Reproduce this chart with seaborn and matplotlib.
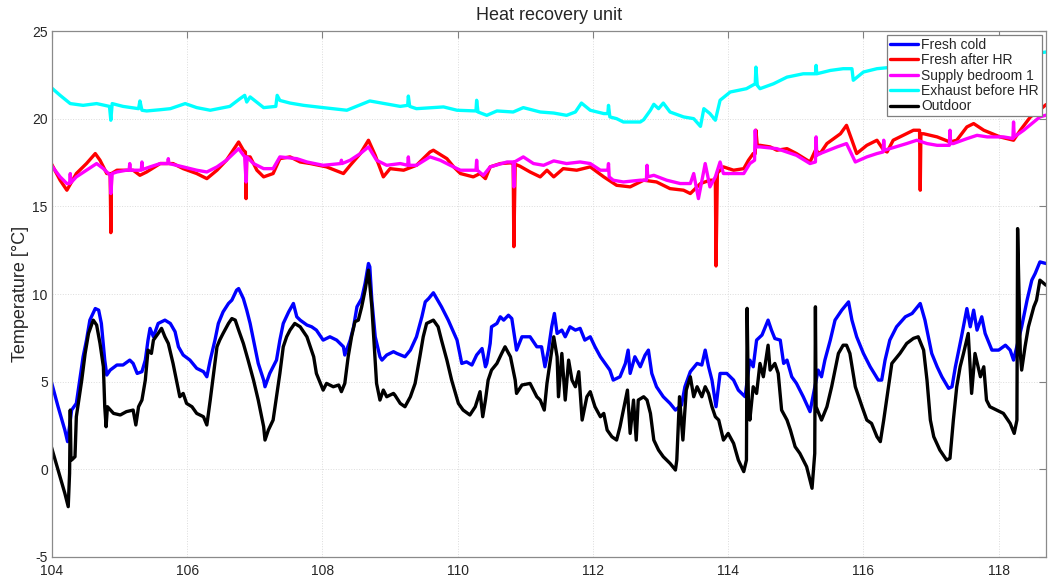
import matplotlib
matplotlib.use("Agg")
import matplotlib.pyplot as plt
import pandas as pd
import seaborn as sns

# ---- sensor readings (day of year, degC) ----
t_fresh_cold = [
    103.99, 104.09, 104.19, 104.23, 104.29, 104.36, 104.41, 104.46, 104.51, 104.56,
    104.64, 104.69, 104.73, 104.78, 104.81, 104.86, 104.96, 105.05, 105.15, 105.20,
    105.26, 105.33, 105.38, 105.42, 105.45, 105.50, 105.57, 105.67, 105.75, 105.82,
    105.87, 105.94, 106.04, 106.14, 106.24, 106.29, 106.34, 106.41, 106.46, 106.53,
    106.61, 106.66, 106.73, 106.76, 106.83, 106.88, 106.93, 106.98, 107.05, 107.13,
    107.15, 107.22, 107.32, 107.37, 107.42, 107.50, 107.57, 107.62, 107.67, 107.77,
    107.84, 107.91, 107.96, 108.01, 108.11, 108.21, 108.31, 108.33, 108.41, 108.46,
    108.51, 108.58, 108.63, 108.68, 108.70, 108.73, 108.78, 108.85, 108.88, 108.95,
    109.05, 109.10, 109.22, 109.30, 109.39, 109.47, 109.52, 109.57, 109.64, 109.69,
    109.76, 109.86, 109.99, 110.06, 110.13, 110.21, 110.28, 110.36, 110.41, 110.43,
    110.48, 110.50, 110.58, 110.63, 110.68, 110.75, 110.80, 110.87, 110.95, 111.07,
    111.17, 111.24, 111.29, 111.34, 111.39, 111.43, 111.47, 111.54, 111.59, 111.66,
    111.74, 111.81, 111.88, 111.96, 112.03, 112.11, 112.18, 112.25, 112.30, 112.40,
    112.48, 112.52, 112.55, 112.62, 112.70, 112.77, 112.82, 112.87, 112.94, 113.04,
    113.14, 113.22, 113.31, 113.36, 113.44, 113.54, 113.61, 113.66, 113.71, 113.76,
    113.82, 113.88, 113.98, 114.08, 114.15, 114.25, 114.32, 114.37, 114.42, 114.50,
    114.59, 114.64, 114.69, 114.77, 114.82, 114.87, 114.94, 115.01, 115.11, 115.21,
    115.33, 115.38, 115.43, 115.51, 115.58, 115.68, 115.78, 115.83, 115.90, 116.00,
    116.10, 116.22, 116.27, 116.32, 116.39, 116.49, 116.62, 116.72, 116.84, 116.91,
    117.01, 117.09, 117.16, 117.26, 117.31, 117.36, 117.45, 117.53, 117.58, 117.63,
    117.68, 117.75, 117.80, 117.90, 118.00, 118.10, 118.17, 118.22, 118.34, 118.42,
    118.49, 118.54, 118.61, 118.70,
]
fresh_cold = [
    5.00, 3.57, 2.24, 1.58, 3.38, 3.76, 5.09, 6.42, 7.37, 8.51,
    9.17, 9.08, 8.32, 6.23, 5.38, 5.66, 5.95, 5.95, 6.23, 6.04,
    5.47, 5.57, 6.23, 7.37, 8.04, 7.56, 8.32, 8.51, 8.32, 7.85,
    6.99, 6.52, 6.23, 5.76, 5.57, 5.28, 6.23, 7.37, 8.32, 8.98,
    9.46, 9.65, 10.22, 10.31, 9.74, 9.08, 8.32, 7.37, 6.04, 5.09,
    4.71, 5.47, 6.23, 7.37, 8.32, 8.98, 9.46, 8.70, 8.51, 8.23,
    8.13, 7.94, 7.65, 7.37, 7.56, 7.37, 6.99, 6.52, 7.37, 8.13,
    9.27, 9.74, 10.60, 11.74, 11.55, 9.65, 7.56, 6.42, 6.23, 6.52,
    6.71, 6.61, 6.42, 6.80, 7.56, 8.70, 9.55, 9.74, 10.07, 9.74,
    9.27, 8.51, 7.37, 6.04, 6.13, 5.95, 6.52, 6.89, 5.85, 6.04,
    7.18, 8.13, 8.32, 8.70, 8.51, 8.79, 8.60, 6.80, 7.56, 7.56,
    6.99, 6.99, 5.85, 6.80, 8.13, 8.89, 7.75, 7.94, 7.56, 8.13,
    7.94, 8.04, 7.37, 7.56, 6.99, 6.42, 6.04, 5.66, 5.09, 5.28,
    6.04, 6.80, 5.47, 6.42, 5.85, 6.51, 6.80, 5.47, 4.71, 4.14,
    3.76, 3.38, 3.67, 4.71, 5.57, 6.04, 5.95, 6.80, 5.85, 5.09,
    3.57, 5.47, 5.47, 5.09, 4.52, 4.14, 6.23, 5.85, 7.37, 7.66,
    8.51, 7.94, 7.46, 7.37, 6.04, 6.23, 5.28, 4.90, 4.14, 3.29,
    5.66, 5.28, 6.23, 7.37, 8.51, 9.08, 9.55, 8.51, 7.56, 6.61,
    5.85, 5.09, 5.09, 6.23, 7.37, 8.13, 8.70, 8.89, 9.46, 8.51,
    6.61, 5.85, 5.28, 4.62, 4.71, 5.85, 7.56, 9.17, 8.13, 9.08,
    7.94, 8.70, 7.75, 6.80, 6.80, 7.08, 6.80, 6.23, 8.13, 9.65,
    10.79, 11.17, 11.83, 11.74,
]

t_fresh_after_hr = [
    103.99, 104.12, 104.22, 104.36, 104.51, 104.64, 104.71, 104.81, 104.86, 104.87,
    104.88, 104.96, 105.20, 105.30, 105.40, 105.60, 105.79, 105.94, 106.14, 106.29,
    106.44, 106.58, 106.76, 106.83, 106.86, 106.87, 106.88, 106.93, 107.03, 107.13,
    107.27, 107.37, 107.52, 107.67, 107.82, 108.06, 108.31, 108.41, 108.56, 108.68,
    108.78, 108.90, 109.00, 109.20, 109.39, 109.59, 109.64, 109.76, 109.84, 109.94,
    110.04, 110.23, 110.33, 110.41, 110.48, 110.63, 110.78, 110.82, 110.83, 110.85,
    110.92, 111.07, 111.22, 111.32, 111.42, 111.56, 111.76, 111.96, 112.16, 112.35,
    112.55, 112.75, 112.94, 113.14, 113.34, 113.44, 113.59, 113.73, 113.81, 113.82,
    113.84, 113.93, 114.08, 114.23, 114.30, 114.37, 114.40, 114.41, 114.43, 114.47,
    114.62, 114.72, 114.87, 115.01, 115.21, 115.29, 115.36, 115.46, 115.66, 115.75,
    115.83, 115.90, 116.05, 116.20, 116.30, 116.35, 116.44, 116.74, 116.83, 116.84,
    116.85, 116.89, 117.09, 117.28, 117.38, 117.53, 117.63, 117.78, 118.02, 118.22,
    118.32, 118.47, 118.66, 118.70,
]
fresh_after_hr = [
    17.44, 16.49, 15.92, 16.87, 17.44, 18.01, 17.63, 16.87, 16.87, 13.50,
    16.87, 17.06, 17.06, 16.77, 16.96, 17.44, 17.44, 17.15, 16.87, 16.58,
    17.06, 17.63, 18.67, 18.20, 18.10, 15.44, 17.82, 17.82, 17.06, 16.68,
    16.87, 17.72, 17.82, 17.53, 17.44, 17.25, 16.87, 17.34, 18.01, 18.77,
    17.91, 16.68, 17.15, 17.06, 17.34, 18.10, 18.20, 17.91, 17.72, 17.25,
    16.87, 16.68, 16.87, 16.58, 17.25, 17.44, 17.48, 17.44, 12.70, 17.40,
    17.29, 16.96, 16.68, 17.06, 16.68, 17.15, 17.06, 17.25, 16.68, 16.20,
    16.11, 16.49, 16.39, 16.01, 15.92, 15.73, 16.30, 16.49, 16.49, 11.60,
    16.90, 17.25, 17.06, 17.15, 17.63, 18.01, 18.01, 19.34, 18.48, 18.48,
    18.39, 18.20, 18.29, 18.01, 17.53, 18.20, 18.01, 18.58, 19.14, 19.62,
    18.77, 18.01, 18.48, 18.77, 18.20, 18.10, 18.77, 19.34, 19.34, 15.92,
    19.14, 19.14, 18.96, 18.67, 18.77, 19.53, 19.72, 19.34, 18.96, 18.77,
    19.34, 20.10, 20.67, 20.80,
]

t_supply_bed1 = [
    103.99, 104.12, 104.22, 104.26, 104.27, 104.28, 104.36, 104.51, 104.66, 104.76,
    104.86, 104.87, 104.89, 104.96, 105.10, 105.14, 105.15, 105.16, 105.25, 105.32,
    105.33, 105.34, 105.45, 105.60, 105.71, 105.72, 105.73, 105.94, 106.14, 106.29,
    106.44, 106.58, 106.76, 106.85, 106.87, 106.88, 106.98, 107.13, 107.27, 107.37,
    107.62, 107.77, 108.01, 108.27, 108.28, 108.29, 108.41, 108.56, 108.68, 108.80,
    108.95, 109.15, 109.26, 109.27, 109.28, 109.39, 109.59, 109.74, 109.89, 110.04,
    110.18, 110.27, 110.28, 110.29, 110.38, 110.48, 110.73, 110.82, 110.83, 110.84,
    110.97, 111.12, 111.27, 111.42, 111.61, 111.81, 111.96, 112.11, 112.22, 112.23,
    112.24, 112.30, 112.45, 112.70, 112.79, 112.80, 112.81, 112.90, 113.09, 113.29,
    113.44, 113.49, 113.56, 113.66, 113.73, 113.81, 113.88, 113.93, 114.23, 114.32,
    114.39, 114.40, 114.41, 114.47, 114.72, 115.01, 115.21, 115.29, 115.30, 115.31,
    115.36, 115.61, 115.75, 115.88, 116.05, 116.20, 116.29, 116.30, 116.31, 116.39,
    116.64, 116.79, 116.94, 117.09, 117.27, 117.28, 117.29, 117.33, 117.53, 117.68,
    117.83, 118.07, 118.21, 118.22, 118.23, 118.37, 118.61, 118.70,
]
supply_bed1 = [
    17.34, 16.68, 16.30, 16.30, 16.87, 16.35, 16.68, 17.06, 17.44, 17.15,
    16.77, 15.73, 16.87, 16.96, 17.06, 17.06, 17.44, 17.06, 17.06, 17.06,
    17.53, 17.10, 17.25, 17.44, 17.44, 17.72, 17.44, 17.25, 17.06, 16.96,
    17.25, 17.63, 18.29, 17.82, 16.39, 17.82, 17.44, 17.15, 17.15, 17.82,
    17.72, 17.53, 17.34, 17.44, 17.63, 17.44, 17.63, 18.01, 18.39, 17.63,
    17.34, 17.44, 17.34, 17.82, 17.34, 17.34, 17.82, 17.63, 17.34, 17.06,
    17.06, 17.06, 17.63, 17.06, 16.77, 17.25, 17.53, 17.53, 16.11, 17.53,
    17.82, 17.44, 17.34, 17.59, 17.44, 17.53, 17.44, 17.06, 17.06, 17.44,
    16.68, 16.49, 16.39, 16.49, 16.49, 17.34, 16.68, 16.77, 16.49, 16.30,
    16.30, 16.87, 15.44, 17.44, 16.11, 16.68, 17.53, 16.87, 16.87, 17.44,
    17.63, 19.34, 18.39, 18.39, 18.29, 17.91, 17.44, 17.53, 18.96, 17.91,
    18.01, 18.39, 18.58, 17.53, 17.82, 18.01, 18.10, 18.77, 18.20, 18.29,
    18.58, 18.77, 18.58, 18.48, 18.48, 19.34, 18.58, 18.58, 18.86, 19.05,
    18.96, 18.96, 18.87, 19.81, 18.96, 19.34, 20.10, 20.20,
]

t_exhaust_before_hr = [
    103.99, 104.12, 104.27, 104.46, 104.66, 104.85, 104.87, 104.89, 105.05, 105.28,
    105.30, 105.33, 105.40, 105.60, 105.75, 105.97, 106.14, 106.34, 106.63, 106.78,
    106.85, 106.88, 106.93, 107.13, 107.31, 107.33, 107.37, 107.52, 107.72, 108.01,
    108.36, 108.70, 109.15, 109.26, 109.27, 109.29, 109.39, 109.79, 109.99, 110.27,
    110.28, 110.30, 110.43, 110.58, 110.82, 110.97, 111.22, 111.42, 111.61, 111.74,
    111.83, 111.96, 112.16, 112.22, 112.23, 112.25, 112.35, 112.45, 112.70, 112.75,
    112.85, 112.90, 112.97, 113.04, 113.14, 113.34, 113.49, 113.59, 113.64, 113.73,
    113.81, 113.88, 114.03, 114.27, 114.40, 114.41, 114.43, 114.47, 114.67, 114.87,
    115.11, 115.29, 115.30, 115.31, 115.51, 115.70, 115.83, 115.85, 116.00, 116.20,
    116.60, 117.20, 117.80, 118.30, 118.70,
]
exhaust_before_hr = [
    21.77, 21.33, 20.86, 20.76, 20.86, 20.70, 19.91, 20.86, 20.70, 20.57,
    21.01, 20.48, 20.44, 20.51, 20.57, 20.86, 20.63, 20.48, 20.70, 21.14,
    21.33, 20.95, 21.24, 20.63, 20.70, 21.33, 21.04, 20.89, 20.76, 20.63,
    20.48, 21.01, 20.70, 20.76, 21.29, 20.70, 20.57, 20.67, 20.48, 20.44,
    21.05, 20.38, 20.19, 20.44, 20.38, 20.63, 20.38, 20.32, 20.19, 20.38,
    20.89, 20.48, 20.29, 20.29, 20.76, 20.10, 20.00, 19.81, 19.81, 19.94,
    20.48, 20.82, 20.57, 20.89, 20.38, 20.10, 20.00, 19.56, 20.57, 20.29,
    19.91, 21.05, 21.52, 21.71, 21.99, 22.94, 21.90, 21.71, 21.99, 22.37,
    22.56, 22.56, 23.04, 22.56, 22.75, 22.85, 22.85, 22.19, 22.66, 22.85,
    23.00, 23.20, 23.40, 23.60, 23.80,
]

t_outdoor = [
    103.99, 104.09, 104.19, 104.24, 104.26, 104.27, 104.28, 104.29, 104.34, 104.36,
    104.41, 104.44, 104.49, 104.54, 104.61, 104.66, 104.71, 104.76, 104.78, 104.80,
    104.82, 104.91, 105.01, 105.10, 105.20, 105.24, 105.28, 105.33, 105.38, 105.42,
    105.47, 105.50, 105.57, 105.62, 105.67, 105.72, 105.79, 105.84, 105.89, 105.94,
    105.99, 106.07, 106.14, 106.24, 106.29, 106.34, 106.39, 106.44, 106.48, 106.53,
    106.61, 106.66, 106.71, 106.76, 106.83, 106.90, 106.98, 107.05, 107.13, 107.15,
    107.20, 107.27, 107.32, 107.37, 107.42, 107.47, 107.52, 107.59, 107.67, 107.77,
    107.87, 107.91, 107.99, 108.01, 108.06, 108.16, 108.24, 108.28, 108.33, 108.38,
    108.43, 108.48, 108.53, 108.58, 108.63, 108.68, 108.73, 108.76, 108.80, 108.85,
    108.90, 108.95, 109.05, 109.07, 109.15, 109.22, 109.30, 109.37, 109.44, 109.49,
    109.54, 109.64, 109.71, 109.76, 109.84, 109.91, 110.01, 110.08, 110.18, 110.26,
    110.33, 110.37, 110.41, 110.45, 110.50, 110.58, 110.65, 110.70, 110.78, 110.85,
    110.87, 110.95, 111.07, 111.17, 111.22, 111.28, 111.32, 111.37, 111.42, 111.47,
    111.49, 111.54, 111.59, 111.64, 111.69, 111.74, 111.79, 111.84, 111.91, 111.96,
    112.03, 112.11, 112.16, 112.21, 112.28, 112.35, 112.40, 112.45, 112.51, 112.55,
    112.60, 112.64, 112.67, 112.75, 112.80, 112.85, 112.90, 112.97, 113.04, 113.14,
    113.22, 113.24, 113.28, 113.33, 113.38, 113.44, 113.49, 113.54, 113.61, 113.66,
    113.71, 113.76, 113.81, 113.86, 113.93, 114.00, 114.08, 114.15, 114.23, 114.27,
    114.28, 114.30, 114.32, 114.37, 114.42, 114.47, 114.52, 114.59, 114.62, 114.69,
    114.74, 114.79, 114.87, 114.92, 114.99, 115.06, 115.16, 115.24, 115.28, 115.29,
    115.30, 115.33, 115.38, 115.46, 115.53, 115.58, 115.63, 115.70, 115.75, 115.80,
    115.88, 115.98, 116.05, 116.12, 116.20, 116.25, 116.30, 116.37, 116.42, 116.54,
    116.64, 116.74, 116.81, 116.89, 116.94, 116.99, 117.04, 117.13, 117.23, 117.28,
    117.33, 117.38, 117.43, 117.48, 117.55, 117.60, 117.65, 117.73, 117.78, 117.82,
    117.87, 117.97, 118.07, 118.17, 118.23, 118.27, 118.28, 118.32, 118.34, 118.39,
    118.44, 118.52, 118.56, 118.61, 118.70,
]
outdoor = [
    1.29, -0.04, -1.37, -2.13, -0.23, 3.38, 0.72, 0.53, 0.72, 3.00,
    4.33, 5.09, 6.61, 7.75, 8.51, 8.23, 7.18, 5.85, 3.57, 2.43,
    3.57, 3.19, 3.10, 3.29, 3.38, 2.53, 3.57, 3.95, 5.09, 6.80,
    6.61, 7.37, 7.75, 8.04, 7.56, 7.18, 6.04, 5.09, 4.14, 4.33,
    3.76, 3.57, 3.19, 3.00, 2.53, 3.95, 5.47, 6.99, 7.37, 7.75,
    8.32, 8.60, 8.51, 7.94, 7.18, 6.23, 5.09, 3.95, 2.43, 1.67,
    2.24, 2.81, 4.14, 5.47, 6.99, 7.56, 7.94, 8.32, 8.13, 7.56,
    6.42, 5.47, 4.71, 4.52, 4.90, 4.71, 4.81, 4.43, 4.90, 6.42,
    7.56, 8.42, 8.51, 9.27, 10.22, 11.36, 9.27, 7.37, 4.90, 3.95,
    4.52, 4.14, 4.33, 4.24, 3.76, 3.57, 4.14, 4.90, 6.42, 7.56,
    8.32, 8.51, 8.13, 7.37, 6.23, 5.09, 3.76, 3.38, 3.10, 3.57,
    4.43, 3.00, 3.95, 5.09, 5.66, 6.04, 6.61, 6.99, 6.42, 5.09,
    4.33, 4.81, 4.90, 4.14, 3.95, 3.38, 4.90, 6.23, 7.56, 6.42,
    4.14, 6.61, 3.95, 6.23, 5.09, 4.71, 5.57, 2.81, 4.14, 4.43,
    3.57, 3.00, 3.19, 2.24, 1.86, 1.67, 2.43, 3.38, 4.52, 2.05,
    3.95, 1.67, 3.95, 4.14, 3.95, 3.19, 1.67, 1.10, 0.72, 0.34,
    -0.04, 0.53, 4.14, 1.67, 4.52, 5.28, 4.14, 4.71, 4.14, 4.71,
    4.33, 3.57, 3.00, 2.81, 1.67, 2.05, 1.48, 0.53, -0.13, 0.53,
    9.18, 3.57, 2.81, 4.71, 4.33, 6.04, 5.28, 7.08, 5.66, 6.04,
    5.47, 3.38, 2.81, 2.24, 1.29, 0.91, 0.15, -1.08, 0.91, 9.27,
    3.57, 3.29, 2.81, 3.57, 4.71, 5.66, 6.61, 7.08, 7.08, 6.61,
    4.71, 3.57, 2.81, 2.62, 1.86, 1.58, 2.81, 4.71, 6.04, 6.61,
    7.18, 7.47, 7.56, 6.80, 5.09, 2.81, 1.86, 1.10, 0.53, 0.63,
    2.81, 4.71, 5.85, 6.61, 7.75, 4.33, 6.61, 5.28, 5.85, 3.95,
    3.57, 3.38, 3.19, 2.62, 2.05, 2.81, 13.73, 6.61, 5.66, 6.99,
    8.13, 9.27, 9.65, 10.79, 10.50,
]

sensor_names = ["Fresh cold", "Fresh after HR", "Supply bedroom 1",
                "Exhaust before HR", "Outdoor"]
sensor_colors = ["#0000ff", "#ff0000", "#ff00ff", "#00ffff", "#000000"]

x_ticks = [104, 106, 108, 110, 112, 114, 116, 118]
y_ticks = [-5, 0, 5, 10, 15, 20, 25]

# ---- long-form table for seaborn ----
series_data = [
    (t_fresh_cold, fresh_cold),
    (t_fresh_after_hr, fresh_after_hr),
    (t_supply_bed1, supply_bed1),
    (t_exhaust_before_hr, exhaust_before_hr),
    (t_outdoor, outdoor),
]
frames = []
for name, (t, v) in zip(sensor_names, series_data):
    frames.append(pd.DataFrame({"day": t, "temp": v, "sensor": name}))
df = pd.concat(frames, ignore_index=True)

sns.set_style("white")
plt.rcParams["font.family"] = ["Liberation Sans", "DejaVu Sans"]

fig = plt.figure(figsize=(10.49, 5.76), dpi=100)
ax = fig.add_axes([52 / 1049, 19 / 576, 994 / 1049, 526 / 576])

sns.lineplot(
    data=df, x="day", y="temp", hue="sensor",
    hue_order=sensor_names, palette=dict(zip(sensor_names, sensor_colors)),
    estimator=None, sort=False, linewidth=2.4, legend=False, ax=ax,
)

ax.set_xlim(104, 118.7)
ax.set_ylim(-5, 25)
ax.set_xticks(x_ticks)
ax.set_xticklabels([str(v) for v in x_ticks])
ax.set_yticks(y_ticks)
ax.set_yticklabels([str(v) for v in y_ticks])
ax.set_xlabel("")
ax.set_ylabel("Temperature [°C]", fontsize=13, labelpad=2)
ax.set_title("Heat recovery unit", fontsize=13, pad=8)

ax.grid(True, linestyle=":", color="#dcdcdc", linewidth=0.7)
ax.tick_params(direction="in", length=5, width=0.8, color="#808080",
               labelsize=10, top=True, right=True)
ax.tick_params(axis="x", pad=5)
ax.tick_params(axis="y", pad=3)
for sp in ax.spines.values():
    sp.set_color("#8a8a8a")
    sp.set_linewidth(0.9)

lines = ax.get_lines()[:5]
leg = ax.legend(lines, sensor_names, loc="upper right", fontsize=10,
                frameon=True, fancybox=False, framealpha=1,
                edgecolor="#7f7f7f", borderaxespad=0.3, handlelength=2.0,
                handletextpad=0.25, labelspacing=0.1, borderpad=0.2)
leg.get_frame().set_linewidth(0.9)

fig.savefig("out.png", dpi=100)
